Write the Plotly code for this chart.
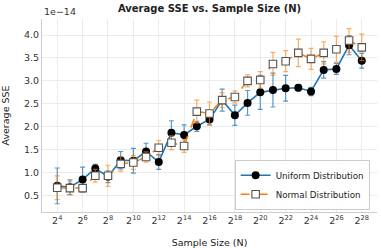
import plotly.graph_objects as go

# exponents of the sample size N = 2**n
exponents = list(range(4, 29))
sample_sizes = [2 ** n for n in exponents]

# Average SSE values in units of 1e-14
uniform_sse = [0.71, 0.68, 0.85, 1.09, 0.91, 1.27, 1.26, 1.46, 1.23, 1.87, 1.82, 2.01, 2.16,
               2.58, 2.25, 2.52, 2.75, 2.80, 2.84, 2.85, 2.77, 3.24, 3.26, 3.78, 3.44]
uniform_err = [0.39, 0.16, 0.27, 0.09, 0.13, 0.19, 0.27, 0.18, 0.16, 0.26, 0.22, 0.11, 0.12,
               0.24, 0.22, 0.27, 0.37, 0.37, 0.28, 0.07, 0.09, 0.18, 0.12, 0.21, 0.16]
normal_sse = [0.67, 0.66, 0.66, 0.93, 0.93, 1.19, 1.22, 1.34, 1.54, 1.65, 1.58, 2.33, 2.29,
              2.58, 2.65, 3.00, 3.02, 3.37, 3.43, 3.61, 3.48, 3.61, 3.69, 3.88, 3.73]
normal_err = [0.26, 0.14, 0.08, 0.14, 0.23, 0.16, 0.15, 0.11, 0.16, 0.15, 0.14, 0.25, 0.25,
              0.16, 0.13, 0.13, 0.18, 0.25, 0.23, 0.30, 0.23, 0.24, 0.28, 0.26, 0.29]

tick_exponents = list(range(4, 29, 2))
tick_vals = [2 ** n for n in tick_exponents]
tick_text = [f"2<sup>{n}</sup>" for n in tick_exponents]
y_ticks = [0.5, 1.0, 1.5, 2.0, 2.5, 3.0, 3.5, 4.0]

FONT = "DejaVu Sans"
BLUE = "#1f77b4"
ORANGE = "#ff7f0e"

fig = go.Figure()
fig.add_trace(go.Scatter(
    x=sample_sizes, y=uniform_sse, name="Uniform Distribution",
    mode="lines+markers",
    line=dict(color=BLUE, width=1.6),
    marker=dict(symbol="circle", size=8, color="black", line=dict(width=0)),
    error_y=dict(type="data", array=uniform_err, visible=True,
                 color="rgba(31,119,180,0.75)", thickness=1.2, width=2.5),
))
fig.add_trace(go.Scatter(
    x=sample_sizes, y=normal_sse, name="Normal Distribution",
    mode="lines+markers",
    line=dict(color=ORANGE, width=1.6, dash="dash"),
    marker=dict(symbol="square", size=7.5, color="white", line=dict(width=1.1, color="#555555")),
    error_y=dict(type="data", array=normal_err, visible=True,
                 color="rgba(255,127,14,0.65)", thickness=1.2, width=2.5),
))

fig.update_layout(
    width=381, height=248,
    margin=dict(l=42, r=4, t=19, b=36, autoexpand=False),
    paper_bgcolor="white", plot_bgcolor="white",
    font=dict(family=FONT, size=9.5, color="#333333"),
    title=dict(text="<b>Average SSE vs. Sample Size (N)</b>", x=0.55, xanchor="center",
               y=1 - 8.5 / 248, yanchor="middle", font=dict(family=FONT, size=10, color="#222222")),
    showlegend=True,
    legend=dict(x=0.978, y=0.012, xanchor="right", yanchor="bottom",
                bgcolor="rgba(255,255,255,0.9)", bordercolor="#cccccc", borderwidth=1,
                font=dict(family=FONT, size=8.7, color="#222222"),
                tracegroupgap=0, itemwidth=30),
    xaxis=dict(type="log", range=[2.8 * 0.30103, 29.2 * 0.30103], automargin=False,
               tickmode="array", tickvals=tick_vals, ticktext=tick_text,
               showgrid=True, gridcolor="#ebebeb", gridwidth=1,
               showline=True, linecolor="#cccccc", linewidth=1, mirror=False,
               ticks="", tickfont=dict(size=9.5, color="#333333"),
               title=dict(text="Sample Size (N)", font=dict(size=9.5, color="#222222")),
               zeroline=False),
    yaxis=dict(range=[0.14, 4.35], tickmode="array", tickvals=y_ticks, automargin=False,
               ticktext=[f"{v:.1f}" for v in y_ticks],
               showgrid=True, gridcolor="#ebebeb", gridwidth=1,
               showline=True, linecolor="#cccccc", linewidth=1,
               ticks="", tickfont=dict(size=9.5, color="#333333"),
               title=dict(text="Average SSE", font=dict(size=9.5, color="#222222")),
               zeroline=False),
    annotations=[dict(text="1e\u221214", xref="paper", yref="paper", x=0.0, y=1.0,
                      xanchor="left", yanchor="bottom", showarrow=False,
                      font=dict(family=FONT, size=9.5, color="#333333"))],
)

fig.write_html(
    "out.html",
    config={"displayModeBar": False},
    post_script="document.body.style.margin='0';document.body.style.padding='0';"
                "document.body.style.overflow='hidden';",
)
